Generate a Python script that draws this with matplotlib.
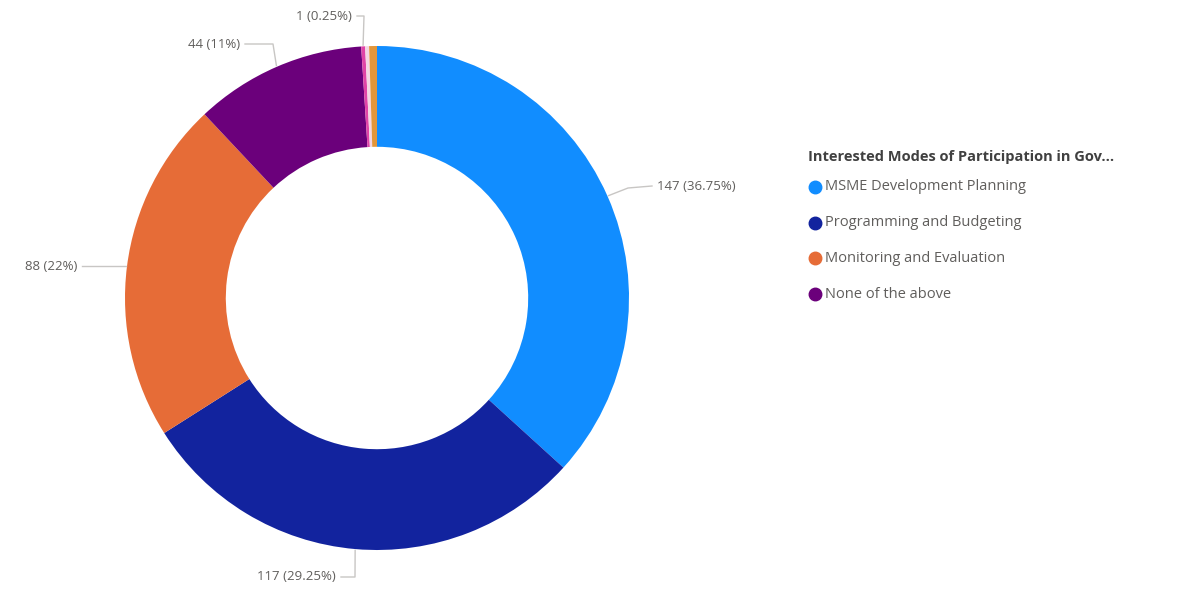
import numpy as np
import matplotlib
matplotlib.use("Agg")
import matplotlib.pyplot as plt

# participation survey counts, clockwise from 12 o'clock
categories = ["MSME Development Planning", "Programming and Budgeting",
              "Monitoring and Evaluation", "None of the above", "Other",
              "Not sure", "Blank"]
counts = [147, 117, 88, 44, 1, 1, 2]
colors = ["#118DFF", "#12239E", "#E66C37", "#6B007B", "#E044A7", "#F4D6E4",
          "#E3963A"]
legend_title = "Interested Modes of Participation in Gov..."
legend_items = 4

plt.rcParams["font.family"] = ["Open Sans", "DejaVu Sans"]

W, H = 1192, 591
fig = plt.figure(figsize=(W / 100, H / 100), dpi=100)
cx, cy, R = 377, 298, 252
ax = fig.add_axes([(cx - R) / W, (H - cy - R) / H, 2 * R / W, 2 * R / H])

wedges, _ = ax.pie(counts, colors=colors, startangle=90, counterclock=False,
                   radius=1, wedgeprops=dict(width=0.4, edgecolor="none"))
ax.set_xlim(-1, 1)
ax.set_ylim(-1, 1)
ax.axis("off")

total = sum(counts)


def px(x, y):
    return (x - cx) / R, (cy - y) / R


# label layout: (slice index, elbow px, text end px, text anchor)
label_spots = [
    (0, (628, 188), (652, 186), "left"),
    (2, None, (82, 266), "right"),
    (1, (355, 577), (341, 577), "right"),
    (3, (273, 44), (245, 44), "right"),
    (4, (364, 16), (357, 16), "right"),
]

line_col = "#C8C6C4"
text_col = "#605E5C"
for i, elbow, end, ha in label_spots:
    w = wedges[i]
    mid = np.deg2rad((w.theta1 + w.theta2) / 2)
    ex, ey = np.cos(mid) * 1.005, np.sin(mid) * 1.005
    tx, ty = px(*end)
    if elbow is None:
        xs, ys = [ex, tx], [ey, ey]
        ty = ey
    else:
        bx, by = px(*elbow)
        xs, ys = [ex, bx, tx], [ey, by, ty]
    ax.plot(xs, ys, color=line_col, lw=1, clip_on=False)
    pct = counts[i] / total * 100
    lab = f"{counts[i]} ({pct:g}%)"
    off = 0.02 if ha == "left" else -0.02
    ax.text(tx + off, ty, lab, ha=ha, va="center", fontsize=9.5,
            color=text_col, clip_on=False)

# legend
fig.text(808 / W, 1 - 157 / H, legend_title, fontsize=10.5, fontweight="bold",
         color="#404040", va="center", ha="left")
for k in range(legend_items):
    y = 1 - (187 + k * 35.7) / H
    fig.add_artist(matplotlib.lines.Line2D([815 / W], [y], marker="o",
                                           markersize=9, color=colors[k],
                                           linestyle="none",
                                           transform=fig.transFigure))
    fig.text(825 / W, y, categories[k], fontsize=10.5, color=text_col,
             va="center", ha="left")

fig.savefig("out.png", dpi=100, facecolor="white")
